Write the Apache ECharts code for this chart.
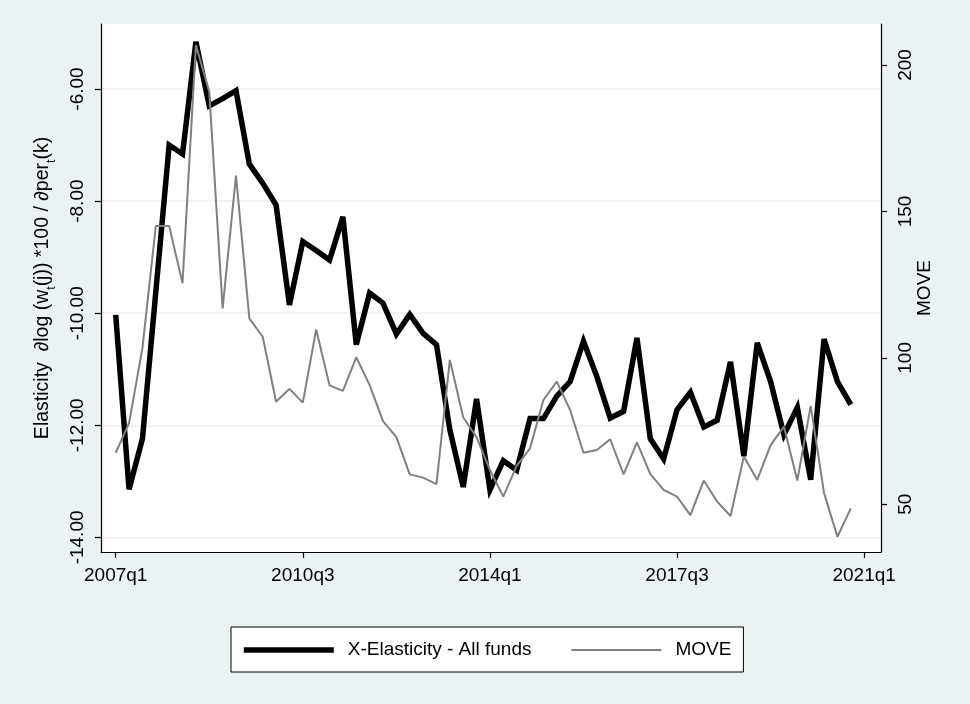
<!DOCTYPE html>
<html>
<head>
<meta charset="utf-8">
<script src="https://cdn.jsdelivr.net/npm/echarts@6/dist/echarts.min.js"></script>
<style>
  html, body { margin: 0; padding: 0; background: #EAF2F3; }
  #chart { width: 970px; height: 704px; }
</style>
</head>
<body>
<div id="chart"></div>
<script>
// Quarters 2007q1 .. 2020q4
const quarters = [
  '2007q1','2007q2','2007q3','2007q4','2008q1','2008q2','2008q3','2008q4',
  '2009q1','2009q2','2009q3','2009q4','2010q1','2010q2','2010q3','2010q4',
  '2011q1','2011q2','2011q3','2011q4','2012q1','2012q2','2012q3','2012q4',
  '2013q1','2013q2','2013q3','2013q4','2014q1','2014q2','2014q3','2014q4',
  '2015q1','2015q2','2015q3','2015q4','2016q1','2016q2','2016q3','2016q4',
  '2017q1','2017q2','2017q3','2017q4','2018q1','2018q2','2018q3','2018q4',
  '2019q1','2019q2','2019q3','2019q4','2020q1','2020q2','2020q3','2020q4'
];

// X-Elasticity - All funds (left axis)
const elasticity = [
  -10.03, -13.14, -12.24, -9.62, -7.00, -7.16, -5.16, -6.30,
  -6.17, -6.03, -7.34, -7.68, -8.07, -9.85, -8.72, -8.88,
  -9.05, -8.28, -10.56, -9.64, -9.82, -10.37, -10.02, -10.36,
  -10.56, -12.08, -13.10, -11.53, -13.15, -12.63, -12.80, -11.88,
  -11.88, -11.48, -11.22, -10.50, -11.13, -11.87, -11.75, -10.44,
  -12.24, -12.60, -11.72, -11.41, -12.03, -11.91, -10.87, -12.55,
  -10.53, -11.22, -12.17, -11.68, -12.97, -10.46, -11.22, -11.63
];

// MOVE index (right axis)
const move = [
  67.6, 77.7, 103.3, 145.0, 145.0, 125.5, 206.8, 190.9,
  116.9, 162.2, 113.5, 107.2, 85.0, 89.4, 84.7, 109.7,
  90.6, 88.7, 100.2, 90.7, 78.4, 72.9, 60.2, 59.1,
  56.9, 99.3, 79.7, 72.9, 61.7, 52.6, 63.1, 69.1,
  85.6, 91.9, 82.2, 67.6, 68.5, 72.2, 60.2, 71.1,
  60.3, 54.9, 52.6, 46.3, 58.1, 50.9, 46.0, 66.3,
  58.3, 70.2, 76.5, 58.1, 83.6, 53.8, 38.9, 48.6
];

const xTickLabels = ['2007q1', '2010q3', '2014q1', '2017q3', '2021q1'];
const leftTicks = [-14, -12, -10, -8, -6];
const rightTicks = [50, 100, 150, 200];

function qIndex(label) {
  const y = parseInt(label.slice(0, 4), 10);
  const q = parseInt(label.slice(5), 10);
  return (y - 2007) * 4 + (q - 1);
}
function qLabel(idx) {
  const y = 2007 + Math.floor(idx / 4);
  const q = (idx % 4) + 1;
  return y + 'q' + q;
}

const xTickValues = xTickLabels.map(qIndex);
const elasData = quarters.map((q, i) => [qIndex(q), elasticity[i]]);
const moveData = quarters.map((q, i) => [qIndex(q), move[i]]);

const FONT = 'Liberation Sans, Arial, sans-serif';
const FS = 19;

const chart = echarts.init(document.getElementById('chart'), null, { renderer: 'canvas' });
chart.setOption({
  backgroundColor: '#EAF2F3',
  animation: false,
  textStyle: { fontFamily: FONT, color: '#000' },
  grid: {
    left: 101, right: 89, top: 24, bottom: 152,
    show: true, backgroundColor: '#ffffff', borderWidth: 0
  },
  legend: {
    left: 231, top: 627,
    backgroundColor: '#ffffff', borderColor: '#000', borderWidth: 1,
    padding: [12, 12, 11, 10],
    itemWidth: 90, itemHeight: 1, itemGap: 39,
    itemStyle: { color: 'transparent', borderWidth: 0, opacity: 0 },
    textStyle: { fontFamily: FONT, fontSize: FS, color: '#000', padding: [0, 0, 0, 9], lineHeight: 22 },
    data: [
      { name: 'X-Elasticity - All funds', lineStyle: { width: 5.5, color: '#000' } },
      { name: 'MOVE', lineStyle: { width: 2, color: '#808080' } }
    ]
  },
  xAxis: {
    type: 'value',
    min: -1.1, max: 57.26,
    axisLine: { show: true, onZero: false, lineStyle: { color: '#000', width: 1.2 } },
    axisTick: { show: true, length: 6, lineStyle: { color: '#000', width: 1.2 }, customValues: xTickValues },
    axisLabel: {
      customValues: xTickValues, margin: 14,
      fontFamily: FONT, fontSize: FS, color: '#000',
      formatter: v => qLabel(Math.round(v))
    },
    splitLine: { show: false }
  },
  yAxis: [
    {
      type: 'value', position: 'left',
      min: -14.26, max: -4.84,
      name: '{n|Elasticity  ∂log (w}{s|t}{n|(j)) *100 / ∂per}{s|t}{n|(k)}',
      nameLocation: 'middle', nameGap: 46, nameRotate: 90, nameMoveOverlap: false,
      nameTextStyle: {
        fontFamily: FONT, color: '#000',
        rich: {
          n: { fontFamily: FONT, fontSize: 19.5, color: '#000', lineHeight: 24 },
          s: { fontFamily: FONT, fontSize: 12, color: '#000', lineHeight: 24, verticalAlign: 'bottom', padding: [0, 0, -3, 0] }
        }
      },
      axisLine: { show: true, onZero: false, lineStyle: { color: '#000', width: 1.2 } },
      axisTick: { show: true, length: 6, lineStyle: { color: '#000', width: 1.2 }, customValues: leftTicks },
      axisLabel: {
        customValues: leftTicks, rotate: 90, margin: 14,
        fontFamily: FONT, fontSize: FS, color: '#000',
        formatter: v => Number(v).toFixed(2)
      },
      splitLine: { show: true, lineStyle: { color: '#EAF2F3', width: 1.5 } }
    },
    {
      type: 'value', position: 'right',
      min: 33.7, max: 214,
      name: 'MOVE',
      nameLocation: 'middle', nameGap: 34, nameRotate: 90, nameMoveOverlap: false,
      nameTextStyle: { fontFamily: FONT, fontSize: FS, color: '#000' },
      axisLine: { show: true, onZero: false, lineStyle: { color: '#000', width: 1.2 } },
      axisTick: { show: true, length: 6, lineStyle: { color: '#000', width: 1.2 }, customValues: rightTicks },
      axisLabel: {
        customValues: rightTicks, rotate: 90, margin: 15,
        fontFamily: FONT, fontSize: FS, color: '#000'
      },
      splitLine: { show: false }
    }
  ],
  series: [
    {
      name: 'X-Elasticity - All funds',
      type: 'line', yAxisIndex: 0,
      data: elasData,
      symbol: 'none', showSymbol: false,
      lineStyle: { color: '#000', width: 5.5, join: 'miter', miterLimit: 4 },
      itemStyle: { color: '#000' },
      z: 2
    },
    {
      name: 'MOVE',
      type: 'line', yAxisIndex: 1,
      data: moveData,
      symbol: 'none', showSymbol: false,
      lineStyle: { color: '#808080', width: 2 },
      itemStyle: { color: '#808080' },
      z: 3
    }
  ]
});
</script>
</body>
</html>
